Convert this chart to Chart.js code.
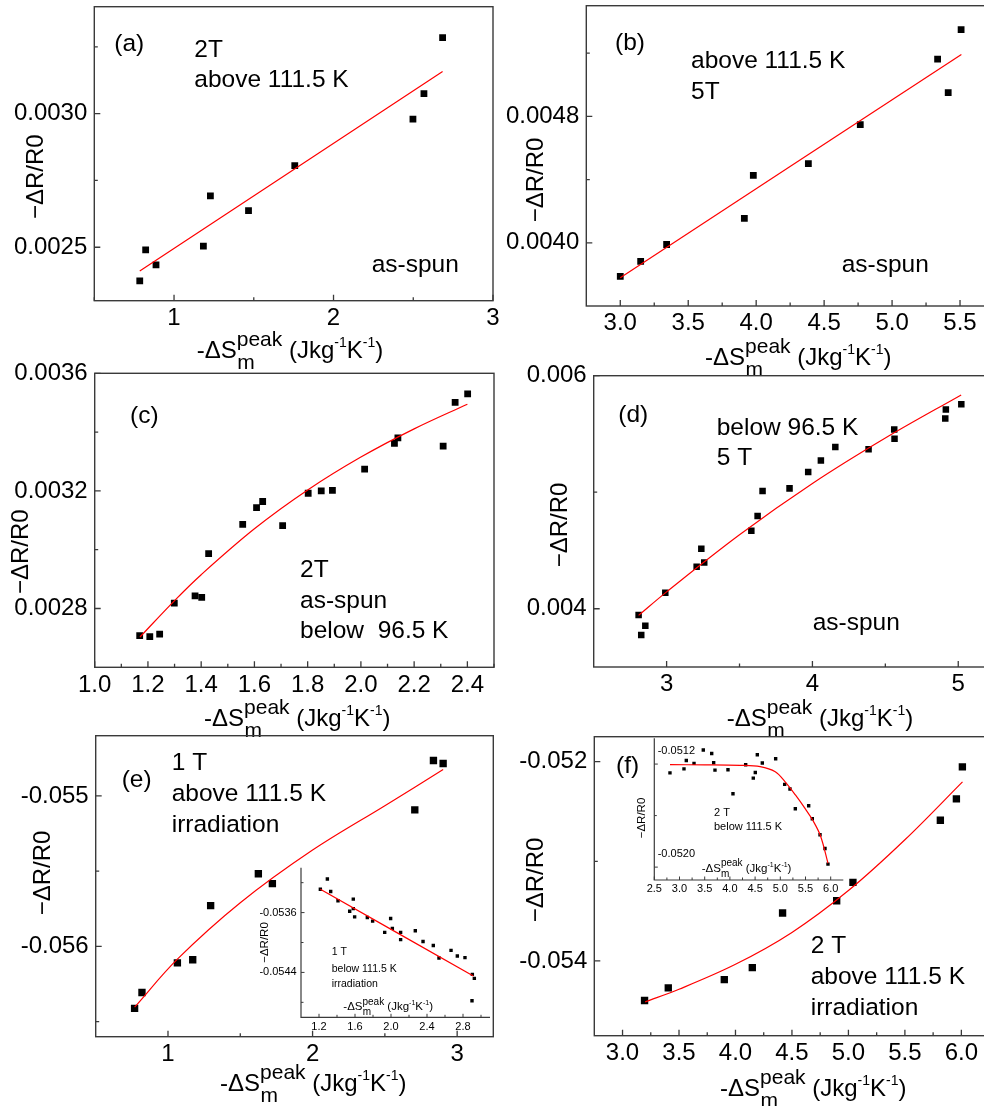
<!DOCTYPE html>
<html><head><meta charset="utf-8">
<script src="https://cdn.jsdelivr.net/npm/chart.js@4.4.0/dist/chart.umd.min.js"></script>
<style>
html,body{margin:0;padding:0;background:#fff;width:984px;height:1106px;overflow:hidden;position:relative}
canvas{position:absolute;left:0;top:-40px}
</style></head><body>
<script>
// ================= DATA =================
// (a) 2T above 111.5 K, as-spun
const A_X = [0.785, 0.822, 0.887, 1.184, 1.228, 1.467, 1.757, 2.498, 2.567, 2.684];
const A_Y = [0.002374, 0.002490, 0.002434, 0.002504, 0.002692, 0.002637, 0.002805, 0.002979, 0.003075, 0.003284];
const A_FIT_X = [0.785, 2.684];
const A_FIT_Y = [0.002411, 0.003158];
const A_XT = [0.5, 1, 1.5, 2, 2.5, 3];
const A_XL = ['', '1', '', '2', '', '3'];
const A_YT = [0.0025, 0.00275, 0.0030, 0.00325];
const A_YL = ['0.0025', '', '0.0030', ''];

// (b) above 111.5 K 5T, as-spun
const B_X = [3.000, 3.150, 3.341, 3.913, 3.979, 4.384, 4.766, 5.335, 5.413, 5.508];
const B_Y = [0.003787, 0.003882, 0.003989, 0.004154, 0.004427, 0.004501, 0.004747, 0.005162, 0.004950, 0.005349];
const B_FIT_X = [3.0, 5.51];
const B_FIT_Y = [0.003779, 0.005192];
const B_XT = [3, 3.25, 3.5, 3.75, 4, 4.25, 4.5, 4.75, 5, 5.25, 5.5];
const B_XL = ['3.0', '', '3.5', '', '4.0', '', '4.5', '', '5.0', '', '5.5'];
const B_YT = [0.0040, 0.0044, 0.0048, 0.0052];
const B_YL = ['0.0040', '', '0.0048', ''];

// (c) 2T as-spun below 96.5 K
const C_X = [1.169, 1.207, 1.244, 1.299, 1.377, 1.402, 1.428, 1.556, 1.608, 1.631, 1.706, 1.802, 1.851, 1.893, 2.014, 2.126, 2.139, 2.309, 2.354, 2.401];
const C_Y = [0.002708, 0.002704, 0.002713, 0.002818, 0.002843, 0.002838, 0.002987, 0.003086, 0.003143, 0.003164, 0.003082, 0.003192, 0.003200, 0.003202, 0.003274, 0.003362, 0.003380, 0.003352, 0.003501, 0.003530];
const C_FIT_X = [1.17, 1.3, 1.4, 1.6, 1.8, 2.0, 2.2, 2.4];
const C_FIT_Y = [0.002703, 0.002827, 0.002915, 0.003071, 0.003203, 0.003315, 0.003411, 0.003495];
const C_XT = [1.0, 1.1, 1.2, 1.3, 1.4, 1.5, 1.6, 1.7, 1.8, 1.9, 2.0, 2.1, 2.2, 2.3, 2.4, 2.5];
const C_XL = ['1.0', '', '1.2', '', '1.4', '', '1.6', '', '1.8', '', '2.0', '', '2.2', '', '2.4', ''];
const C_YT = [0.0028, 0.0030, 0.0032, 0.0034, 0.0036];
const C_YL = ['0.0028', '', '0.0032', '', '0.0036'];

// (d) below 96.5 K 5 T, as-spun
const D_X = [2.808, 2.826, 2.854, 2.991, 3.206, 3.238, 3.258, 3.581, 3.624, 3.658, 3.843, 3.971, 4.058, 4.157, 4.385, 4.561, 4.563, 4.911, 4.915, 5.021];
const D_Y = [0.003946, 0.003775, 0.003854, 0.004137, 0.004360, 0.004514, 0.004397, 0.004670, 0.004796, 0.005010, 0.005033, 0.005173, 0.005272, 0.005389, 0.005369, 0.005538, 0.005458, 0.005632, 0.005709, 0.005755];
const D_FIT_X = [2.808, 3.0, 3.5, 4.0, 4.5, 5.02];
const D_FIT_Y = [0.003943, 0.004145, 0.004635, 0.005075, 0.005465, 0.005835];
const D_XT = [3, 3.5, 4, 4.5, 5];
const D_XL = ['3', '', '4', '', '5'];
const D_YT = [0.004, 0.005, 0.006];
const D_YL = ['0.004', '', '0.006'];

// (e) 1 T above 111.5 K irradiation
const E_X = [0.769, 0.820, 1.065, 1.171, 1.295, 1.625, 1.722, 2.707, 2.836, 2.903];
const E_Y = [-0.056412, -0.056306, -0.056109, -0.056089, -0.055729, -0.055517, -0.055583, -0.055093, -0.054765, -0.054785];
const E_FIT_X = [0.769, 1.065, 1.5, 2.0, 2.5, 2.903];
const E_FIT_Y = [-0.056404, -0.056085, -0.055710, -0.055360, -0.055065, -0.054825];
const E_XT = [1, 1.5, 2, 2.5, 3];
const E_XL = ['1', '', '2', '', '3'];
const E_YT = [-0.0565, -0.056, -0.0555, -0.055];
const E_YL = ['', '-0.056', '', '-0.055'];

// (e) inset: 1 T below 111.5 K irradiation
const EI_X = [1.215, 1.293, 1.330, 1.411, 1.541, 1.581, 1.581, 1.596, 1.737, 1.796, 1.930, 1.996, 2.015, 2.107, 2.107, 2.270, 2.356, 2.470, 2.533, 2.667, 2.737, 2.822, 2.904, 2.926, 2.900];
const EI_Y = [-0.053288, -0.053152, -0.053319, -0.053442, -0.053582, -0.053420, -0.053547, -0.053657, -0.053666, -0.053714, -0.053864, -0.053679, -0.053811, -0.053864, -0.053961, -0.053842, -0.053987, -0.054040, -0.054207, -0.054105, -0.054180, -0.054202, -0.054426, -0.054479, -0.054778];
const EI_FIT_X = [1.215, 2.915];
const EI_FIT_Y = [-0.053288, -0.054448];
const EI_XT = [1.2, 1.4, 1.6, 1.8, 2.0, 2.2, 2.4, 2.6, 2.8, 3.0];
const EI_XL = ['1.2', '', '1.6', '', '2.0', '', '2.4', '', '2.8', ''];
const EI_YT = [-0.0548, -0.0544, -0.0540, -0.0536, -0.0532];
const EI_YL = ['', '-0.0544', '', '-0.0536', ''];

// (f) 2 T above 111.5 K irradiation
const F_X = [3.195, 3.405, 3.901, 4.149, 4.417, 4.896, 5.040, 5.814, 5.956, 6.009];
const F_Y = [-0.054397, -0.054270, -0.054187, -0.054067, -0.053519, -0.053396, -0.053212, -0.052588, -0.052374, -0.052053];
const F_FIT_X = [3.2, 3.5, 4.0, 4.5, 5.0, 5.5, 6.01];
const F_FIT_Y = [-0.054410, -0.054284, -0.054034, -0.053714, -0.053294, -0.052784, -0.052203];
const F_XT = [3, 3.25, 3.5, 3.75, 4, 4.25, 4.5, 4.75, 5, 5.25, 5.5, 5.75, 6];
const F_XL = ['3.0', '', '3.5', '', '4.0', '', '4.5', '', '5.0', '', '5.5', '', '6.0'];
const F_YT = [-0.054, -0.053, -0.052];
const F_YL = ['-0.054', '', '-0.052'];

// (f) inset: 2 T below 111.5 K
const FI_X = [2.811, 3.089, 3.135, 3.288, 3.472, 3.639, 3.678, 3.704, 3.962, 4.061, 4.313, 4.464, 4.504, 4.544, 4.643, 4.908, 5.087, 5.192, 5.298, 5.563, 5.635, 5.788, 5.887, 5.946];
const FI_Y = [-0.051268, -0.051237, -0.051172, -0.051195, -0.051091, -0.051118, -0.051190, -0.051247, -0.051244, -0.051431, -0.051205, -0.051309, -0.051265, -0.051128, -0.051192, -0.051159, -0.051358, -0.051394, -0.051547, -0.051524, -0.051625, -0.051749, -0.051856, -0.051977];
const FI_FIT_X = [2.811, 3.5, 4.2, 4.6, 4.9, 5.1, 5.3, 5.5, 5.65, 5.8, 5.946];
const FI_FIT_Y = [-0.051205, -0.051206, -0.05121, -0.05122, -0.05126, -0.05134, -0.05144, -0.05155, -0.05164, -0.05176, -0.05197];
const FI_XT = [2.5, 2.75, 3, 3.25, 3.5, 3.75, 4, 4.25, 4.5, 4.75, 5, 5.25, 5.5, 5.75, 6];
const FI_XL = ['2.5', '', '3.0', '', '3.5', '', '4.0', '', '4.5', '', '5.0', '', '5.5', '', '6.0'];
const FI_YT = [-0.0520, -0.0516, -0.0512];
const FI_YL = ['-0.0520', '', '-0.0512'];

const Y_TITLE = '\u2212\u0394R/R0';
const X_TITLE = {pre: '-\u0394S', sup: 'peak', sub: 'm', open: ' (Jkg', exp: '-1', k: 'K', close: ')'};

// ================= RENDERING =================
const FONT = '"Liberation Sans", Arial, Helvetica, sans-serif';
const OY = 40, CW = 1100, CH = 1186;

function pts(xs, ys) { return xs.map((x, i) => ({x: x, y: ys[i]})); }

function drawXTitle(ctx, t) {
  let x = t.x; const y = t.y + OY;
  const f = s => s + 'px ' + FONT;
  ctx.textAlign = 'left'; ctx.textBaseline = 'alphabetic';
  ctx.font = f(t.F); ctx.fillText(X_TITLE.pre, x, y); x += ctx.measureText(X_TITLE.pre).width;
  ctx.font = f(t.Fp); ctx.fillText(X_TITLE.sup, x, y - t.up);
  const wp = ctx.measureText(X_TITLE.sup).width;
  ctx.fillText(X_TITLE.sub, x + t.F * 0.02, y + t.down); x += wp;
  ctx.font = f(t.F); ctx.fillText(X_TITLE.open, x, y); x += ctx.measureText(X_TITLE.open).width;
  ctx.font = f(t.Fs); ctx.fillText(X_TITLE.exp, x, y - t.sp); x += ctx.measureText(X_TITLE.exp).width;
  ctx.font = f(t.F); ctx.fillText(X_TITLE.k, x, y); x += ctx.measureText(X_TITLE.k).width;
  ctx.font = f(t.Fs); ctx.fillText(X_TITLE.exp, x, y - t.sp); x += ctx.measureText(X_TITLE.exp).width;
  ctx.font = f(t.F); ctx.fillText(X_TITLE.close, x, y);
}

function decor(p) {
  return {
    id: 'decor',
    afterDraw(chart) {
      const ctx = chart.ctx, a = chart.chartArea;
      const xs = chart.scales.x, ys = chart.scales.y;
      ctx.save();
      ctx.strokeStyle = '#3a3a3a';
      ctx.lineWidth = p.axisWidth;
      if (p.box) {
        ctx.strokeRect(a.left, a.top, a.right - a.left, a.bottom - a.top);
      } else {
        ctx.beginPath();
        ctx.moveTo(a.left, a.top); ctx.lineTo(a.left, a.bottom); ctx.lineTo(a.right, a.bottom);
        ctx.stroke();
      }
      ctx.lineWidth = p.tickWidth;
      ctx.beginPath();
      xs.ticks.forEach((t, i) => {
        const px = xs.getPixelForValue(t.value);
        const len = p.xl[i] ? p.tMaj : p.tMin;
        ctx.moveTo(px, a.bottom); ctx.lineTo(px, a.bottom - len);
      });
      ys.ticks.forEach((t, i) => {
        const py = ys.getPixelForValue(t.value);
        const len = p.yl[i] ? p.tMaj : p.tMin;
        ctx.moveTo(a.left, py); ctx.lineTo(a.left + len, py);
      });
      ctx.stroke();
      ctx.fillStyle = '#000';
      ctx.textAlign = 'left'; ctx.textBaseline = 'alphabetic';
      (p.texts || []).forEach(t => {
        ctx.font = t.s + 'px ' + FONT;
        ctx.fillText(t.t, t.x, t.y + OY);
      });
      if (p.ytitle) {
        ctx.save();
        ctx.translate(p.ytitle.x, p.ytitle.y + OY);
        ctx.rotate(-Math.PI / 2);
        ctx.font = p.ytitle.s + 'px ' + FONT;
        ctx.textAlign = 'center'; ctx.textBaseline = 'middle';
        ctx.fillText(Y_TITLE, 0, 0);
        ctx.restore();
      }
      if (p.xtitle) drawXTitle(ctx, p.xtitle);
      ctx.restore();
    }
  };
}

function makeChart(p) {
  const cv = document.createElement('canvas');
  cv.width = CW; cv.height = CH;
  cv.style.width = CW + 'px'; cv.style.height = CH + 'px';
  document.body.appendChild(cv);
  const fr = p.frame;
  const datasets = [
    {data: pts(p.fx, p.fy), showLine: true, pointRadius: 0, borderColor: '#ff0000', borderWidth: p.lw,
     tension: 0.35, fill: false},
    {data: pts(p.x, p.y), showLine: false, pointStyle: 'rect', pointRadius: p.pr,
     pointBackgroundColor: '#000', backgroundColor: '#000', pointBorderWidth: 0, borderWidth: 0}
  ];
  new Chart(cv, {
    type: 'scatter',
    data: {datasets},
    options: {
      responsive: false, animation: false, devicePixelRatio: 1, events: [],
      layout: {padding: {left: fr.L - p.wy, top: fr.T + OY, right: CW - fr.R, bottom: CH - (fr.B + OY) - p.hx}},
      plugins: {legend: {display: false}, tooltip: {enabled: false}},
      scales: {
        x: {
          type: 'linear', position: 'bottom', min: p.xr[0], max: p.xr[1],
          afterFit: s => { s.height = p.hx; },
          afterBuildTicks: s => { s.ticks = p.xt.map(v => ({value: v})); },
          grid: {display: false, drawTicks: false}, border: {display: false},
          ticks: {autoSkip: false, maxRotation: 0, minRotation: 0, padding: p.xpad, color: '#000',
                  font: {family: FONT, size: p.fs}, callback: (v, i) => p.xl[i]}
        },
        y: {
          type: 'linear', position: 'left', min: p.yr[0], max: p.yr[1],
          afterFit: s => { s.width = p.wy; },
          afterBuildTicks: s => { s.ticks = p.yt.map(v => ({value: v})); },
          grid: {display: false, drawTicks: false}, border: {display: false},
          ticks: {autoSkip: false, padding: p.ypad, color: '#000', mirror: !!p.mirror, labelOffset: p.lo || 0,
                  font: {family: FONT, size: p.fs}, callback: (v, i) => p.yl[i]}
        }
      }
    },
    plugins: [decor(p)]
  });
}

const MAIN = {box: true, axisWidth: 1.4, tickWidth: 1.3, tMaj: 6, tMin: 3.5, wy: 90, hx: 60, xpad: 3.4, ypad: 7, fs: 24, lw: 1.2};
const INS = {box: false, axisWidth: 1.2, tickWidth: 1, tMaj: 3.5, tMin: 2.5, wy: 50, hx: 25, xpad: 2.8, ypad: 4.3, fs: 11, lw: 1.2, pr: 2.4};
const XT_MAIN = {F: 24, Fp: 21, Fs: 14, up: 12, down: 11, sp: 11};
const XT_INS = {F: 11.5, Fp: 10, Fs: 7, up: 5.5, down: 5, sp: 5};
const TS = 24.5;

// (a)
makeChart(Object.assign({}, MAIN, {
  frame: {L: 94.3, T: 6.7, R: 493, B: 300.7}, xr: [0.5, 3], yr: [0.0023, 0.0034],
  x: A_X, y: A_Y, fx: A_FIT_X, fy: A_FIT_Y, xt: A_XT, xl: A_XL, yt: A_YT, yl: A_YL, pr: 4.8,
  ytitle: {x: 36.7, y: 176.7, s: 24},
  xtitle: Object.assign({x: 196.7, y: 358}, XT_MAIN),
  texts: [{t: '(a)', x: 114.3, y: 51, s: TS}, {t: '2T', x: 194.3, y: 56.7, s: TS},
          {t: 'above 111.5 K', x: 194.3, y: 87.3, s: TS}, {t: 'as-spun', x: 371.7, y: 271.7, s: TS}]
}));
// (b)
makeChart(Object.assign({}, MAIN, {
  frame: {L: 586.3, T: 5.7, R: 994, B: 306}, xr: [2.75, 5.75], yr: [0.0036, 0.0055],
  x: B_X, y: B_Y, fx: B_FIT_X, fy: B_FIT_Y, xt: B_XT, xl: B_XL, yt: B_YT, yl: B_YL, pr: 4.8,
  ytitle: {x: 536.7, y: 180, s: 24},
  xtitle: Object.assign({x: 705, y: 365}, XT_MAIN),
  texts: [{t: '(b)', x: 615, y: 50, s: TS}, {t: 'above 111.5 K', x: 691, y: 68.3, s: TS},
          {t: '5T', x: 691, y: 99.3, s: TS}, {t: 'as-spun', x: 841.7, y: 271.7, s: TS}]
}));
// (c)
makeChart(Object.assign({}, MAIN, {
  frame: {L: 94.7, T: 373.3, R: 494, B: 667.3}, xr: [1.0, 2.5], yr: [0.0026, 0.0036],
  x: C_X, y: C_Y, fx: C_FIT_X, fy: C_FIT_Y, xt: C_XT, xl: C_XL, yt: C_YT, yl: C_YL, pr: 4.8,
  ytitle: {x: 21.7, y: 551.7, s: 24},
  xtitle: Object.assign({x: 204, y: 726}, XT_MAIN),
  texts: [{t: '(c)', x: 130, y: 423.3, s: TS}, {t: '2T', x: 300, y: 576.7, s: TS},
          {t: 'as-spun', x: 300, y: 608.3, s: TS}, {t: 'below  96.5 K', x: 300, y: 637.7, s: TS}]
}));
// (d)
makeChart(Object.assign({}, MAIN, {
  frame: {L: 593.7, T: 375.7, R: 994.7, B: 667}, xr: [2.5, 5.25], yr: [0.0035, 0.006],
  x: D_X, y: D_Y, fx: D_FIT_X, fy: D_FIT_Y, xt: D_XT, xl: D_XL, yt: D_YT, yl: D_YL, pr: 4.6,
  ytitle: {x: 560, y: 525, s: 24},
  xtitle: Object.assign({x: 726.7, y: 726}, XT_MAIN),
  texts: [{t: '(d)', x: 618.3, y: 421.7, s: TS}, {t: 'below 96.5 K', x: 716.7, y: 435, s: TS},
          {t: '5 T', x: 716.7, y: 465, s: TS}, {t: 'as-spun', x: 812.7, y: 630, s: TS}]
}));
// (e)
makeChart(Object.assign({}, MAIN, {
  frame: {L: 95.7, T: 735.7, R: 493.3, B: 1036.7}, xr: [0.5, 3.25], yr: [-0.0566, -0.0546],
  x: E_X, y: E_Y, fx: E_FIT_X, fy: E_FIT_Y, xt: E_XT, xl: E_XL, yt: E_YT, yl: E_YL, pr: 5.2,
  ytitle: {x: 43.3, y: 873, s: 24},
  xtitle: Object.assign({x: 220, y: 1090.7}, XT_MAIN),
  texts: [{t: '(e)', x: 121.7, y: 786.7, s: TS}, {t: '1 T', x: 171.7, y: 770, s: TS},
          {t: 'above 111.5 K', x: 171.7, y: 801, s: TS}, {t: 'irradiation', x: 171.7, y: 831.7, s: TS}]
}));
// (f)
makeChart(Object.assign({}, MAIN, {
  frame: {L: 594.3, T: 736.7, R: 989.6, B: 1035.7}, xr: [2.75, 6.25], yr: [-0.05475, -0.05175],
  x: F_X, y: F_Y, fx: F_FIT_X, fy: F_FIT_Y, xt: F_XT, xl: F_XL, yt: F_YT, yl: F_YL, pr: 5.2,
  ytitle: {x: 536.7, y: 880, s: 24},
  xtitle: Object.assign({x: 720, y: 1096}, XT_MAIN),
  texts: [{t: '(f)', x: 616, y: 773.3, s: TS}, {t: '2 T', x: 810.7, y: 953.3, s: TS},
          {t: 'above 111.5 K', x: 810.7, y: 984.3, s: TS}, {t: 'irradiation', x: 810.7, y: 1015, s: TS}]
}));
// (e) inset
makeChart(Object.assign({}, INS, {
  frame: {L: 301, T: 867.7, R: 490, B: 1017.3}, xr: [1.0, 3.1], yr: [-0.0550, -0.0530],
  x: EI_X, y: EI_Y, fx: EI_FIT_X, fy: EI_FIT_Y, xt: EI_XT, xl: EI_XL, yt: EI_YT, yl: EI_YL,
  ytitle: {x: 265, y: 942.5, s: 11.5},
  xtitle: Object.assign({x: 343.3, y: 1010}, XT_INS),
  texts: [{t: '1 T', x: 331.7, y: 955, s: 10.5}, {t: 'below 111.5 K', x: 331.7, y: 971.7, s: 10.5},
          {t: 'irradiation', x: 331.7, y: 986.7, s: 10.5}]
}));
// (f) inset
makeChart(Object.assign({}, INS, {
  frame: {L: 654.3, T: 738.3, R: 843.3, B: 880}, xr: [2.5, 6.25], yr: [-0.0521, -0.0510],
  x: FI_X, y: FI_Y, fx: FI_FIT_X, fy: FI_FIT_Y, xt: FI_XT, xl: FI_XL, yt: FI_YT, yl: FI_YL,
  mirror: true, ypad: 3.4, lo: -13.5, wy: 20,
  ytitle: {x: 641.7, y: 818, s: 11.5},
  xtitle: Object.assign({x: 701.7, y: 871.7}, XT_INS),
  texts: [{t: '2 T', x: 714, y: 816, s: 11}, {t: 'below 111.5 K', x: 714, y: 830, s: 11}]
}));
</script>
</body></html>
